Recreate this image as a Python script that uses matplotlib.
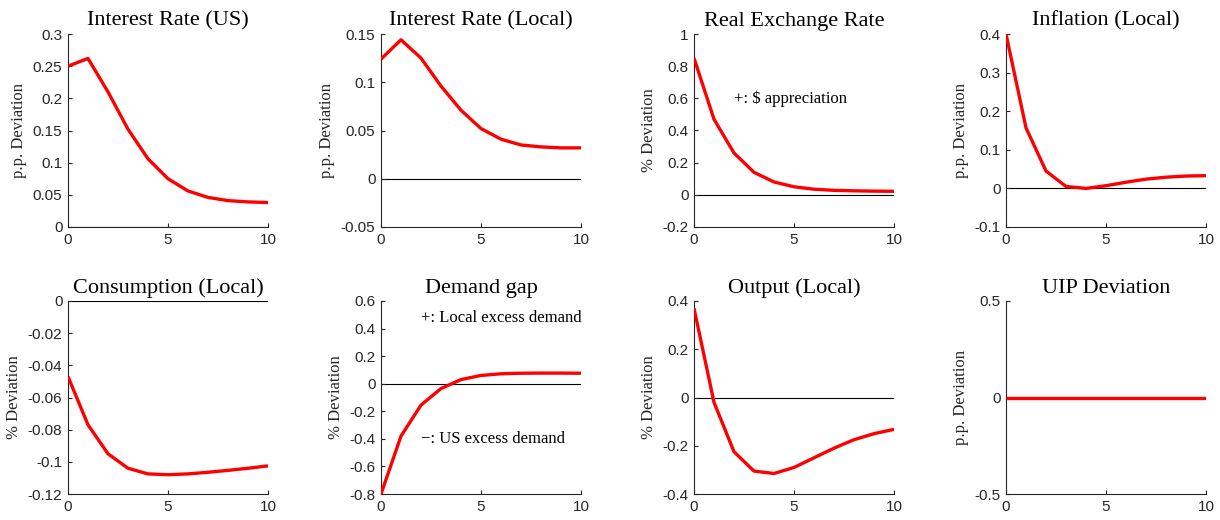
import matplotlib
matplotlib.use("Agg")
import matplotlib.pyplot as plt
import numpy as np

# horizon (quarters)
t = np.arange(0, 11)

titles = ["Interest Rate (US)", "Interest Rate (Local)", "Real Exchange Rate", "Inflation (Local)",
          "Consumption (Local)", "Demand gap", "Output (Local)", "UIP Deviation"]
ylabels = ["p.p. Deviation", "p.p. Deviation", "% Deviation", "p.p. Deviation",
           "% Deviation", "% Deviation", "% Deviation", "p.p. Deviation"]

rate_us = [0.250, 0.262, 0.210, 0.152, 0.106, 0.075, 0.056, 0.046, 0.041, 0.039, 0.038]
rate_local = [0.124, 0.144, 0.125, 0.096, 0.071, 0.052, 0.041, 0.035, 0.033, 0.032, 0.032]
rer = [0.850, 0.470, 0.260, 0.140, 0.080, 0.050, 0.035, 0.028, 0.025, 0.023, 0.022]
inflation = [0.400, 0.157, 0.045, 0.005, 0.000, 0.007, 0.016, 0.024, 0.029, 0.032, 0.033]
consumption = [-0.047, -0.077, -0.095, -0.104, -0.1075, -0.108, -0.1075, -0.1065, -0.1053, -0.104, -0.1025]
demand_gap = [-0.800, -0.380, -0.155, -0.035, 0.030, 0.060, 0.072, 0.076, 0.077, 0.077, 0.076]
output = [0.370, -0.020, -0.225, -0.305, -0.315, -0.290, -0.250, -0.210, -0.175, -0.150, -0.132]
uip = [0.0] * 11

series = [rate_us, rate_local, rer, inflation, consumption, demand_gap, output, uip]

ylims = [(0, 0.3), (-0.05, 0.15), (-0.2, 1), (-0.1, 0.4),
         (-0.12, 0), (-0.8, 0.6), (-0.4, 0.4), (-0.5, 0.5)]
yticks = [np.arange(0, 0.31, 0.05), np.arange(-0.05, 0.151, 0.05), np.arange(-0.2, 1.01, 0.2),
          np.arange(-0.1, 0.41, 0.1), np.arange(-0.12, 0.001, 0.02), np.arange(-0.8, 0.61, 0.2),
          np.arange(-0.4, 0.41, 0.2), [-0.5, 0, 0.5]]

serif = "Liberation Serif"
sans = "Liberation Sans"

fig = plt.figure(figsize=(12.2, 5.2), dpi=100)
W, H = 1220.0, 520.0
lefts = [68, 381, 694, 1006]
bottoms = [227, 494]
aw, ah = 200, 193

for i in range(8):
    r, c = divmod(i, 4)
    ax = fig.add_axes([lefts[c] / W, (H - bottoms[r]) / H, aw / W, ah / H])
    ax.axhline(0, color="black", lw=0.8, zorder=1)
    ax.plot(t, series[i], color="red", lw=2.4, zorder=3, solid_capstyle="butt")
    ax.set_xlim(0, 10)
    ax.set_ylim(*ylims[i])
    ax.set_xticks([0, 5, 10])
    ax.set_yticks(yticks[i])
    ax.set_yticklabels(["%g" % (round(v, 3) + 0.0) for v in yticks[i]])
    for s in ["top", "right"]:
        ax.spines[s].set_visible(False)
    for s in ["left", "bottom"]:
        ax.spines[s].set_color("#262626")
        ax.spines[s].set_linewidth(0.8)
    ax.tick_params(direction="in", length=3, width=0.8, color="#262626",
                   labelsize=11, labelcolor="#262626", pad=4)
    for lab in ax.get_xticklabels() + ax.get_yticklabels():
        lab.set_fontfamily(sans)
    ax.set_title(titles[i], fontsize=16, fontfamily=serif, pad=6)
    ax.set_ylabel(ylabels[i], fontsize=12, fontfamily=serif, color="#262626", labelpad=4)

axes = fig.get_axes()
axes[2].text(2, 0.6, "+: $ appreciation", fontsize=12, fontfamily=serif, va="center")
axes[5].text(2, 0.48, "+: Local excess demand", fontsize=12, fontfamily=serif, va="center")
axes[5].text(2, -0.4, "\u2212: US excess demand", fontsize=12, fontfamily=serif, va="center")

fig.savefig("out.png", dpi=100)
